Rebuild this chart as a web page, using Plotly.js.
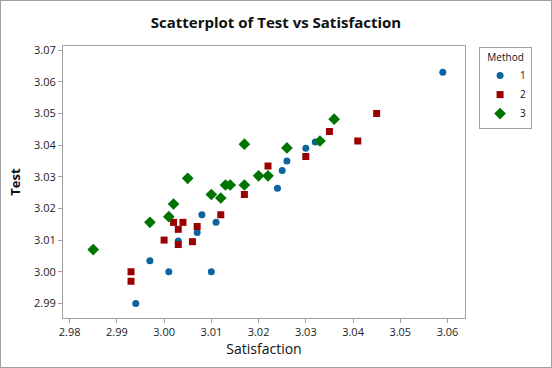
<!DOCTYPE html>
<html>
<head>
<meta charset="utf-8">
<script src="https://cdn.plot.ly/plotly-3.0.1.min.js"></script>
<style>
html,body{margin:0;padding:0;background:#fff;}
#chart{width:552px;height:368px;box-sizing:border-box;border:1px solid #a0a0a0;}
</style>
</head>
<body>
<div id="chart"></div>
<script>
const satisfaction1 = [2.994, 2.997, 3.001, 3.003, 3.007, 3.008, 3.010, 3.011, 3.024, 3.025, 3.026, 3.030, 3.032, 3.059];
const test1 =         [2.990, 3.0035, 3.000, 3.0097, 3.0124, 3.018, 3.000, 3.0156, 3.0264, 3.032, 3.035, 3.039, 3.041, 3.063];

const satisfaction2 = [2.993, 2.993, 3.000, 3.002, 3.003, 3.003, 3.004, 3.006, 3.007, 3.012, 3.017, 3.022, 3.030, 3.035, 3.041, 3.045];
const test2 =         [3.000, 2.997, 3.010, 3.0156, 3.0134, 3.0086, 3.0156, 3.0095, 3.0143, 3.018, 3.0244, 3.0334, 3.0364, 3.0443, 3.0413, 3.050];

const satisfaction3 = [2.985, 2.997, 3.001, 3.002, 3.005, 3.010, 3.012, 3.013, 3.014, 3.017, 3.017, 3.020, 3.022, 3.026, 3.033, 3.036];
const test3 =         [3.007, 3.0156, 3.0174, 3.0214, 3.0295, 3.0244, 3.0233, 3.0274, 3.0274, 3.0274, 3.0403, 3.0303, 3.0303, 3.0391, 3.0413, 3.0482];

const methodNames = ["1", "2", "3"];
const xTicks = [2.98, 2.99, 3.00, 3.01, 3.02, 3.03, 3.04, 3.05, 3.06];
const yTicks = [2.99, 3.00, 3.01, 3.02, 3.03, 3.04, 3.05, 3.06, 3.07];

const fontFam = "'Open Sans', 'Noto Sans', sans-serif";

const traces = [
  {x: satisfaction1, y: test1, name: methodNames[0], type: "scatter", mode: "markers",
   marker: {symbol: "circle", size: 7, color: "#0b64a0"}},
  {x: satisfaction2, y: test2, name: methodNames[1], type: "scatter", mode: "markers",
   marker: {symbol: "square", size: 7, color: "#9b0000"}},
  {x: satisfaction3, y: test3, name: methodNames[2], type: "scatter", mode: "markers",
   marker: {symbol: "diamond", size: 9, color: "#007400"}}
];

const axisCommon = {
  showgrid: false, zeroline: false, showline: true, mirror: true,
  linecolor: "#a0a0a0", linewidth: 1,
  ticks: "outside", ticklen: 4, tickcolor: "#a0a0a0",
  tickfont: {family: fontFam, size: 11, color: "#222"}
};

const layout = {
  width: 550, height: 366,
  paper_bgcolor: "#ffffff", plot_bgcolor: "#ffffff",
  margin: {l: 62, r: 86, t: 45, b: 49},
  title: {text: "<b>Scatterplot of Test vs Satisfaction</b>", x: 0.5, xanchor: "center", y: 0.94, yanchor: "middle",
          font: {family: fontFam, size: 15, color: "#111"}},
  xaxis: Object.assign({}, axisCommon, {
    range: [2.9786, 3.0637], tickvals: xTicks, tickformat: ".2f",
    title: {text: "Satisfaction", font: {family: fontFam, size: 14, color: "#111"}, standoff: 4}
  }),
  yaxis: Object.assign({}, axisCommon, {
    range: [2.9854, 3.0713], tickvals: yTicks, tickformat: ".2f",
    title: {text: "<b>Test</b>", font: {family: fontFam, size: 13, color: "#111"}, standoff: 10}
  }),
  legend: {
    x: 1.035, xanchor: "left", y: 0.996, yanchor: "top",
    bordercolor: "#a0a0a0", borderwidth: 1, bgcolor: "#fff",
    title: {text: "Method", side: "top center", font: {family: fontFam, size: 10, color: "#111"}},
    font: {family: fontFam, size: 10, color: "#111"},
    itemwidth: 30, tracegroupgap: 0
  },
  showlegend: true
};

Plotly.newPlot("chart", traces, layout, {displayModeBar: false, staticPlot: true});
</script>
</body>
</html>
